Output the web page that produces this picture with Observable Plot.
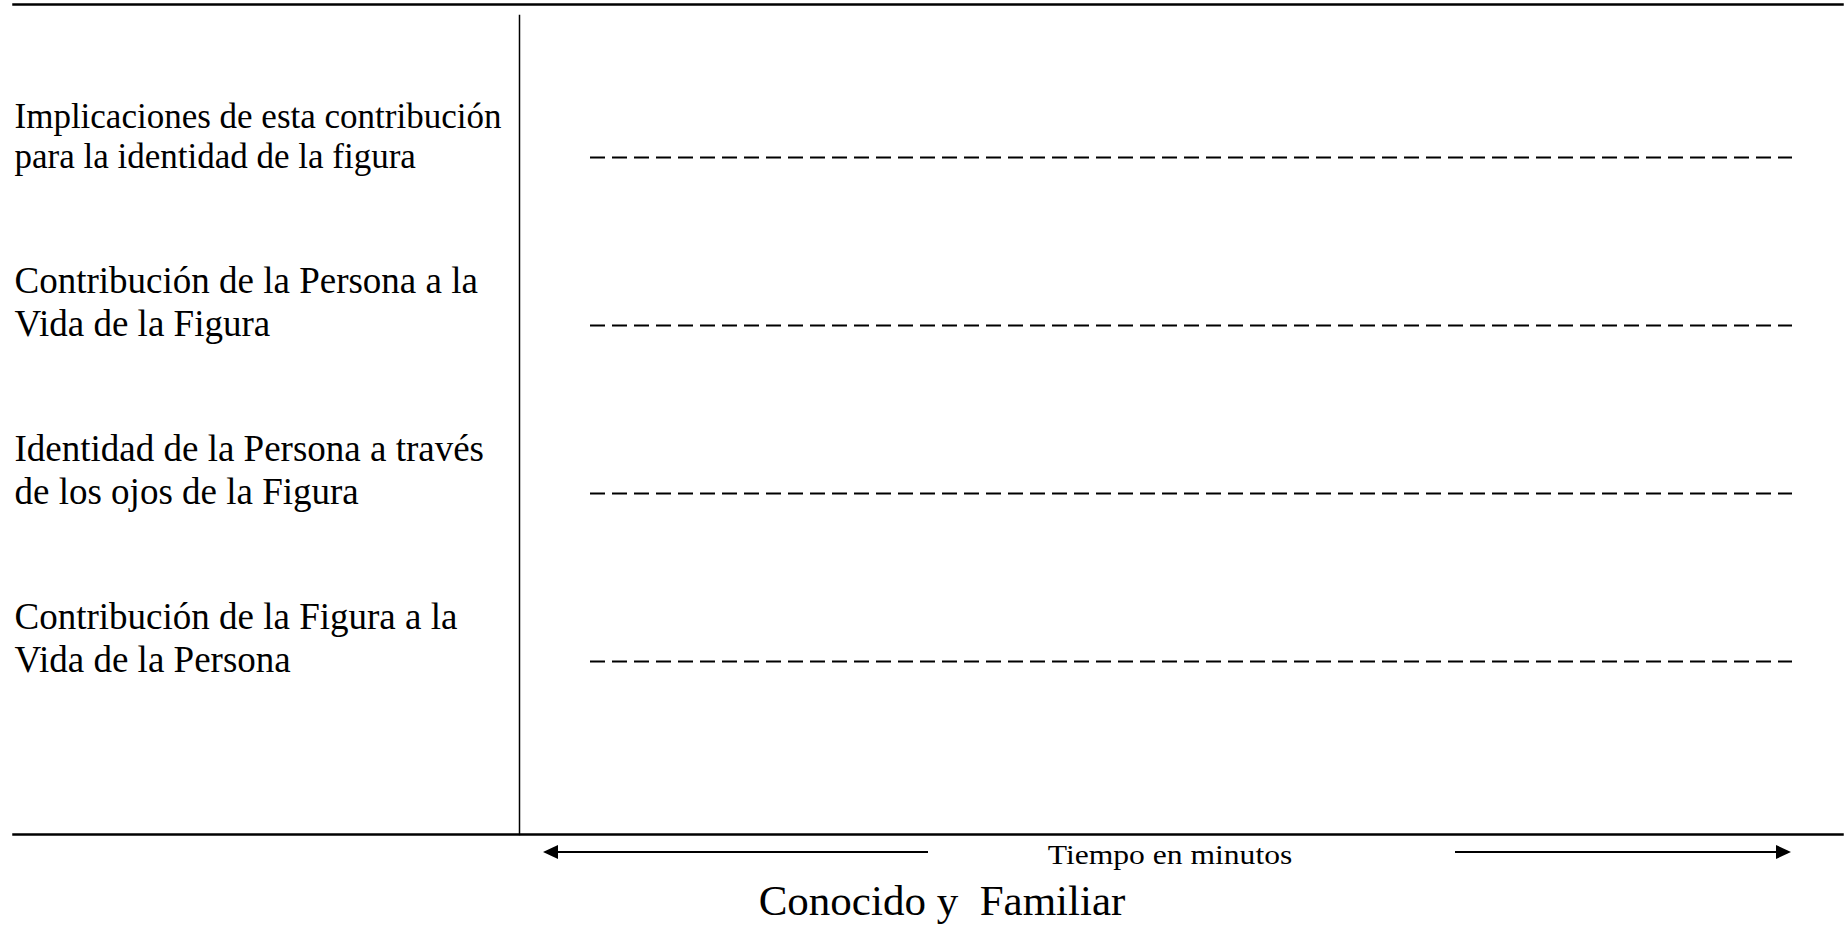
<!DOCTYPE html>
<html>
<head>
<meta charset="utf-8">
<script src="https://cdn.jsdelivr.net/npm/d3@7"></script>
<script src="https://cdn.jsdelivr.net/npm/@observablehq/plot@0.6"></script>
<style>
  html, body { margin: 0; padding: 0; background: #fff; }
  #wrap { position: relative; width: 1845px; height: 925px; overflow: hidden;
          font-family: "Liberation Serif", "Times New Roman", serif; color: #000; }
  #below { position: relative; width: 1845px; height: 85px; }
  .shaft { position: absolute; height: 2px; top: 11px; background: #000; }
  .head { position: absolute; width: 0; height: 0; top: 5px;
          border-top: 7px solid transparent; border-bottom: 7px solid transparent; }
  .xlabel { position: absolute; left: 1170px; top: 2px; font-size: 27px; line-height: 1;
            white-space: pre; transform: translateX(-50%) scaleX(1.17); transform-origin: center; }
  .caption { position: absolute; left: 942px; top: 39px; font-size: 43px; line-height: 1;
             white-space: pre; transform: translateX(-50%); }
</style>
</head>
<body>
<div id="wrap">
  <div id="chart"></div>
  <div id="below">
    <div class="head" style="left:543px;border-right:15px solid #000;"></div>
    <div class="shaft" style="left:556px;width:372px;"></div>
    <div class="xlabel" id="xlabel"></div>
    <div class="shaft" style="left:1455px;width:323px;"></div>
    <div class="head" style="left:1776px;border-left:15px solid #000;"></div>
    <div class="caption" id="caption"></div>
  </div>
</div>
<script>
// Categories (rows), top to bottom, with the line breaks of the reference
const categories = [
  "Implicaciones de esta contribución\npara la identidad de la figura",
  "Contribución de la Persona a la\nVida de la Figura",
  "Identidad de la Persona a través\nde los ojos de la Figura",
  "Contribución de la Figura a la\nVida de la Persona"
];
// Time axis (minutes) – unlabeled in the reference
const xDomain = [0, 60];
const xLabel = "Tiempo en minutos";
const caption = "Conocido y  Familiar";

const chart = Plot.plot({
  width: 1845,
  height: 840,
  marginLeft: 590,
  marginRight: 53,
  marginTop: 156,
  marginBottom: 179,
  x: { domain: xDomain, axis: null },
  y: { type: "point", domain: categories, padding: 0, axis: null },
  style: { fontFamily: "'Liberation Serif', 'Times New Roman', serif", background: "#fff", color: "#000" },
  marks: [
    Plot.frame({ anchor: "top", insetTop: -152, insetLeft: -577, insetRight: -50, stroke: "#000", strokeWidth: 2.5 }),
    Plot.frame({ anchor: "bottom", insetBottom: -173, insetLeft: -577, insetRight: -50, stroke: "#000", strokeWidth: 2.5 }),
    Plot.frame({ anchor: "left", insetLeft: -71, insetTop: -141, insetBottom: -173, stroke: "#000", strokeWidth: 1.5 }),
    Plot.ruleY(categories, { y: d => d, stroke: "#000", strokeWidth: 2, strokeDasharray: "15,7" }),
    Plot.text(categories, {
      y: d => d, text: d => d,
      frameAnchor: "left", dx: -576, dy: 10,
      textAnchor: "start", lineAnchor: "bottom", lineHeight: 1.14,
      fontSize: d => (d === categories[0] ? 35 : 37), fill: "#000"
    })
  ]
});
document.getElementById("chart").appendChild(chart);
document.getElementById("xlabel").textContent = xLabel;
document.getElementById("caption").textContent = caption;
</script>
</body>
</html>
